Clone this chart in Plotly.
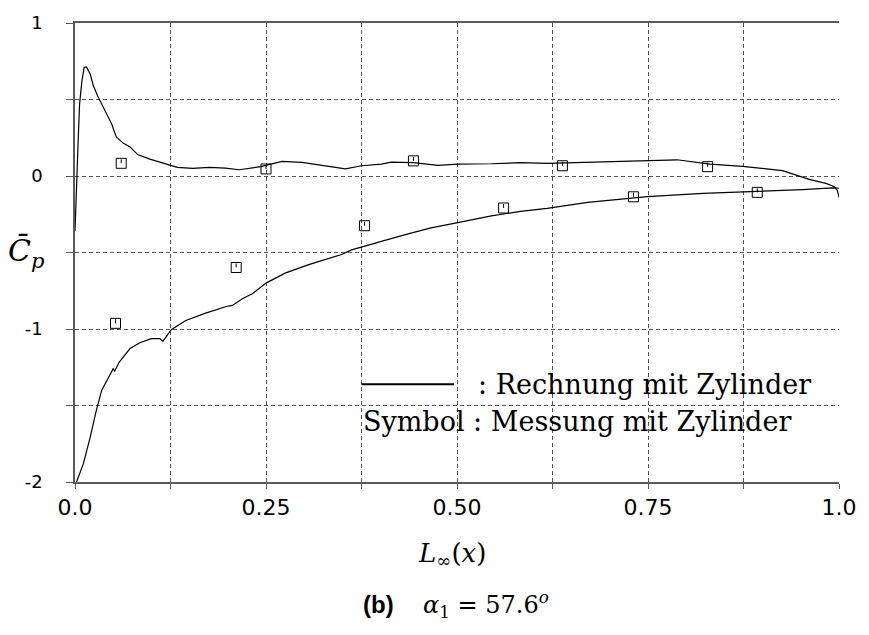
import plotly.graph_objects as go

# Computed pressure distribution (Rechnung), upper and lower branch
upper_x = [0.0, 0.002, 0.004, 0.006, 0.009, 0.012, 0.015, 0.02, 0.024, 0.03,
           0.037, 0.048, 0.054, 0.063, 0.072, 0.082, 0.098, 0.119, 0.134, 0.154,
           0.176, 0.197, 0.215, 0.243, 0.271, 0.297, 0.332, 0.354, 0.375, 0.401,
           0.414, 0.443, 0.475, 0.501, 0.545, 0.583, 0.618, 0.671, 0.749, 0.788,
           0.831, 0.874, 0.926, 0.944, 0.961, 0.983, 0.994, 0.998, 1.0]
upper_cp = [-0.36, -0.01, 0.21, 0.47, 0.62, 0.71, 0.713, 0.665, 0.59, 0.52,
            0.45, 0.34, 0.256, 0.215, 0.19, 0.14, 0.11, 0.078, 0.056, 0.05,
            0.056, 0.052, 0.041, 0.061, 0.095, 0.089, 0.061, 0.046, 0.067, 0.078,
            0.091, 0.087, 0.069, 0.078, 0.08, 0.087, 0.082, 0.089, 0.1, 0.106,
            0.078, 0.063, 0.035, 0.006, -0.022, -0.048, -0.07, -0.096, -0.14]

lower_x = [0.002, 0.011, 0.02, 0.028, 0.035, 0.046, 0.05, 0.052, 0.058, 0.072,
           0.085, 0.1, 0.111, 0.115, 0.126, 0.145, 0.171, 0.198, 0.206, 0.219,
           0.232, 0.25, 0.275, 0.306, 0.336, 0.349, 0.362, 0.375, 0.401, 0.436,
           0.466, 0.501, 0.545, 0.583, 0.618, 0.671, 0.749, 0.822, 0.888, 0.952,
           0.992, 1.0]
lower_cp = [-2.0, -1.88, -1.705, -1.53, -1.40, -1.29, -1.26, -1.275, -1.216, -1.128,
            -1.09, -1.063, -1.063, -1.081, -1.005, -0.944, -0.896, -0.853, -0.846, -0.802,
            -0.77, -0.70, -0.635, -0.579, -0.531, -0.513, -0.483, -0.466, -0.427, -0.378,
            -0.339, -0.305, -0.261, -0.231, -0.211, -0.172, -0.135, -0.113, -0.102, -0.089,
            -0.078, -0.08]

# Measured values (Messung)
meas_x = [0.0605, 0.25, 0.443, 0.638, 0.828,
          0.053, 0.211, 0.379, 0.561, 0.731, 0.893]
meas_cp = [0.083, 0.046, 0.099, 0.067, 0.061,
           -0.963, -0.598, -0.325, -0.209, -0.136, -0.107]

x_tickvals = [0, 0.125, 0.25, 0.375, 0.5, 0.625, 0.75, 0.875, 1.0]
x_ticktext = ["0.0", "", "0.25", "", "0.50", "", "0.75", "", "1.0"]
y_tickvals = [-2, -1.5, -1, -0.5, 0, 0.5, 1]
y_ticktext = ["-2", "", "-1", "", "0", "", "1"]

LINE = "black"
AXIS = "#5a5a5a"
GRID = "#555555"
SERIF = "DejaVu Serif"
SANS = "DejaVu Sans"

fig = go.Figure()

fig.add_trace(go.Scatter(x=upper_x, y=upper_cp, mode="lines",
                         line=dict(color=LINE, width=1.2), showlegend=False))
fig.add_trace(go.Scatter(x=lower_x, y=lower_cp, mode="lines",
                         line=dict(color=LINE, width=1.2), showlegend=False))

# small inner tick drawn inside each open square
tick_len = 0.026
fig.add_trace(go.Scatter(
    x=meas_x, y=meas_cp, mode="markers",
    marker=dict(symbol="square-open", size=10, color=LINE, line=dict(width=1)),
    error_y=dict(type="data", symmetric=False, array=[tick_len] * len(meas_x),
                 arrayminus=[0] * len(meas_x), width=0, thickness=1, color=LINE),
    showlegend=False))

fig.update_xaxes(
    range=[0, 1], tickmode="array", tickvals=x_tickvals, ticktext=x_ticktext,
    showgrid=True, gridcolor=GRID, gridwidth=1, griddash="4px,3px",
    showline=True, linecolor=AXIS, linewidth=1.5, mirror=True,
    ticks="outside", ticklen=5, tickcolor=AXIS, tickwidth=1,
    zeroline=False, tickfont=dict(family=SANS, size=22, color="black"),
)
fig.update_yaxes(
    range=[-2, 1], tickmode="array", tickvals=y_tickvals, ticktext=y_ticktext,
    showgrid=True, gridcolor=GRID, gridwidth=1, griddash="4px,3px",
    showline=True, linecolor=AXIS, linewidth=1.5,
    ticks="outside", ticklen=7, tickcolor=AXIS, tickwidth=1,
    zeroline=False, tickfont=dict(family=SANS, size=18, color="black"),
    ticklabelstandoff=20,
)

annotations = [
    dict(text="<i>C̄</i><sub><i>p</i></sub>", x=-0.0638, y=0.498,
         xanchor="center", yanchor="middle", font=dict(family=SERIF, size=30)),
    dict(text="<i>L</i><sub>∞</sub>(<i>x</i>)", x=0.4935, y=-0.1587,
         xanchor="center", yanchor="middle", font=dict(family=SERIF, size=26)),
    dict(text="<b>(b)</b>", x=0.4206, y=-0.267, xanchor="right", yanchor="middle",
         font=dict(family="Liberation Sans", size=24)),
    dict(text="<i>α</i><sub>1</sub> = 57.6<sup><i>o</i></sup>", x=0.453, y=-0.267,
         xanchor="left", yanchor="middle", font=dict(family=SERIF, size=24)),
    dict(text=": Rechnung mit Zylinder", x=0.5247, y=0.213,
         xanchor="left", yanchor="middle", font=dict(family=SERIF, size=27)),
    dict(text="Symbol : Messung mit Zylinder", x=0.3737, y=0.1326,
         xanchor="left", yanchor="middle", font=dict(family=SERIF, size=27)),
]
for a in annotations:
    a.update(xref="paper", yref="paper", showarrow=False)
    a["font"]["color"] = "black"

fig.update_layout(
    width=869, height=635,
    margin=dict(l=75, r=26, t=22, b=153),
    plot_bgcolor="white", paper_bgcolor="white",
    annotations=annotations,
    shapes=[dict(type="line", xref="paper", yref="paper",
                 x0=0.375, x1=0.496, y0=0.213, y1=0.213,
                 line=dict(color=LINE, width=2))],
)

fig.write_html("out.html")
